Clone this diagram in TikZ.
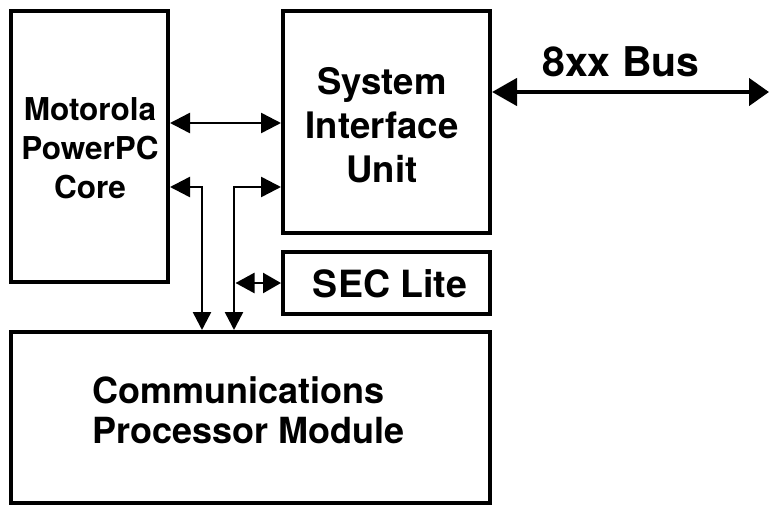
\documentclass[tikz,border=0pt]{standalone}
\usepackage{fontspec}
\setmainfont{TeX Gyre Heros}
\usetikzlibrary{arrows.meta}
\tikzset{
  blk/.style={draw, line width=4pt, minimum width=#1, inner sep=0pt, fill=white},
  lbl/.style={font=\bfseries, align=center, inner sep=0pt},
  conn/.style={line width=2.5pt, {Triangle[length=20pt,width=20pt]}-{Triangle[length=20pt,width=20pt]}},
  connd/.style={line width=2.5pt, {Triangle[length=20pt,width=20pt]}-{Triangle[length=18pt,width=18pt]}},
  secconn/.style={line width=2.5pt, {Triangle[length=19pt,width=20pt]}-{Triangle[length=18pt,width=20pt]}},
  busconn/.style={line width=4.5pt, {Triangle[length=25pt,width=27pt]}-{Triangle[length=20pt,width=27pt]}}
}
\begin{document}
\begin{tikzpicture}[x=1pt,y=-1pt]
\useasboundingbox (0,0) rectangle (769,506);
% boxes
\node[blk=157pt, minimum height=271pt] (mot) at (89.5,146.5) {};
\node[blk=207pt, minimum height=222pt] (siu) at (386.5,122) {};
\node[blk=207pt, minimum height=62pt] (sec) at (386.5,283) {};
\node[blk=479pt, minimum height=171pt] (cpm) at (250.5,417.5) {};
% labels
\node[lbl, font=\fontsize{31.5}{39}\selectfont\bfseries] (motl) at (90,148) {Motorola\\PowerPC\\Core};
\node[lbl, font=\fontsize{36.5}{44}\selectfont\bfseries] (siul) at (382,125) {System\\Interface\\Unit};
\node[lbl, font=\fontsize{37.5}{44}\selectfont\bfseries] (secl) at (390,284) {SEC Lite};
\node[lbl, align=left, anchor=west, font=\fontsize{36}{40}\selectfont\bfseries] (cpml) at (92,410) {Communications\\Processor Module};
\node[lbl, font=\fontsize{41}{44}\selectfont\bfseries] (busl) at (621,62) {8xx Bus};
% helper coordinates
\coordinate (r1) at (0,123);
\coordinate (r2) at (0,187);
\coordinate (r3) at (0,283);
\coordinate (r4) at (0,92);
\coordinate (c1) at (202,0);
\coordinate (c2) at (234,0);
\coordinate (c3) at (235.5,283);
\coordinate (busend) at (769,92);
% connectors
\draw[conn] (mot.east |- r1) -- (siu.west |- r1);
\draw[connd] (mot.east |- r2) -| (cpm.north -| c1);
\draw[connd] (siu.west |- r2) -| (cpm.north -| c2);
\draw[secconn] (c3) -- (sec.west |- r3);
\draw[busconn] (siu.east |- r4) -- (busend);
\end{tikzpicture}
\end{document}
